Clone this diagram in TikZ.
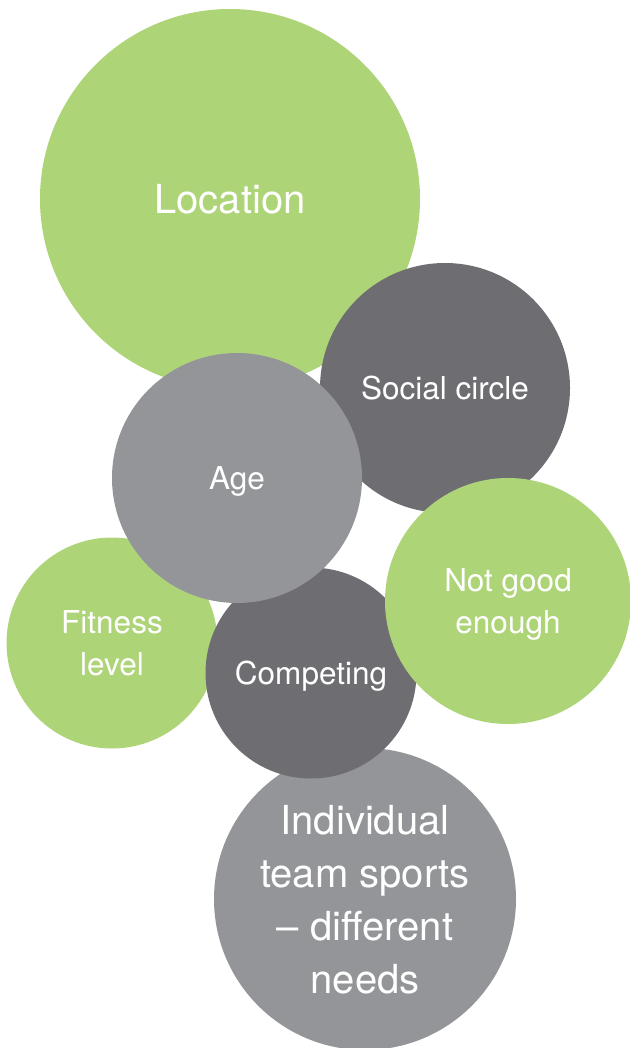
\documentclass[tikz,border=0pt]{standalone}
\usepackage{fontspec}
\setmainfont{TeX Gyre Heros}
\usetikzlibrary{positioning}
\definecolor{leaf}{RGB}{174, 212, 120}
\definecolor{slate}{RGB}{110, 109, 114}
\definecolor{pebble}{RGB}{147, 149, 152}

\begin{document}
\begin{tikzpicture}[
    x=1pt, y=-1pt,
    % Bubble styles
    bubble/.style={
        circle,
        inner sep=0pt,
        text=white,
        align=center,
        text depth=0pt
    },
    greenbub/.style={bubble, fill=leaf},
    darkbub/.style={bubble, fill=slate},
    greybub/.style={bubble, fill=pebble},
    big/.style={font=\fontsize{40}{53}\selectfont},
    mid/.style={font=\fontsize{31.5}{42.5}\selectfont}
]

\useasboundingbox (0,0) rectangle (629,1048);

% --- Nodes ---
\node (location) [greenbub, big, minimum size=380pt] at (230,199) {Location};
\node (social) [darkbub, mid, minimum size=250pt] at (445,388) {Social circle};
\node (individual) [greybub, big, minimum size=302pt] at (365,899) {Individual\\team sports\\-- different\\needs};
\node (fitness) [greenbub, mid, minimum size=211pt] at (112,643) {Fitness\\level};
\node (competing) [darkbub, mid, minimum size=211pt] at (311,673) {Competing};
\node (age) [greybub, mid, minimum size=250pt] at (237,478) {Age};
\node (notgood) [greenbub, mid, minimum size=246pt] at (508,601) {Not good\\enough};

\end{tikzpicture}
\end{document}
